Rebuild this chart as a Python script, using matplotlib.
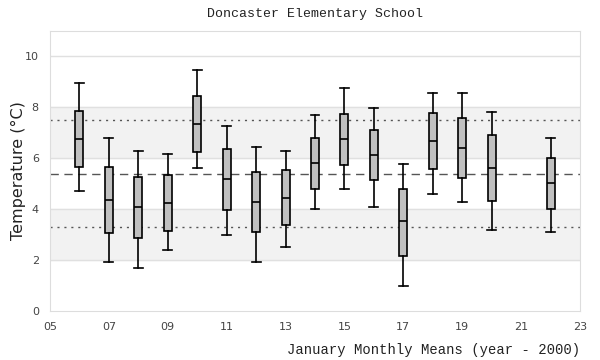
import matplotlib
matplotlib.use("Agg")
import matplotlib.pyplot as plt

years = [6, 7, 8, 9, 10, 11, 12, 13, 14, 15, 16, 17, 18, 19, 20, 22]
whislo = [4.71, 1.91, 1.71, 2.41, 5.61, 3.00, 1.91, 2.53, 4.01, 4.80, 4.10, 1.00, 4.60, 4.28, 3.19, 3.11]
q1 = [5.64, 3.07, 2.88, 3.15, 6.24, 3.97, 3.11, 3.36, 4.79, 5.73, 5.14, 2.18, 5.59, 5.23, 4.32, 4.00]
med = [6.75, 4.36, 4.09, 4.24, 7.33, 5.20, 4.28, 4.45, 5.81, 6.75, 6.12, 3.52, 6.68, 6.39, 5.61, 5.03]
q3 = [7.84, 5.65, 5.26, 5.34, 8.43, 6.36, 5.48, 5.54, 6.78, 7.72, 7.10, 4.79, 7.76, 7.60, 6.90, 6.00]
whishi = [8.96, 6.78, 6.28, 6.18, 9.47, 7.28, 6.46, 6.28, 7.68, 8.76, 7.98, 5.79, 8.57, 8.57, 7.80, 6.78]

mean_line = 5.38
upper_line = 7.49
lower_line = 3.32

xticks = [5, 7, 9, 11, 13, 15, 17, 19, 21, 23]
xticklabels = ["05", "07", "09", "11", "13", "15", "17", "19", "21", "23"]
yticks = [0, 2, 4, 6, 8, 10]

mono = "Liberation Mono"

fig = plt.figure(figsize=(6, 3.6), dpi=100)
ax = fig.add_axes([0.0833, 0.136, 0.8834, 0.778])

# alternating bands
ax.axhspan(2, 4, color="#f2f2f2", zorder=0)
ax.axhspan(6, 8, color="#f2f2f2", zorder=0)
for y in yticks[1:]:
    ax.axhline(y, color="#e0e0e0", lw=1, zorder=0.5)

stats = []
for i in range(len(years)):
    stats.append({"whislo": whislo[i], "q1": q1[i], "med": med[i],
                  "q3": q3[i], "whishi": whishi[i], "fliers": []})

ax.bxp(stats, positions=years, widths=0.27, patch_artist=True,
       showfliers=False, manage_ticks=False,
       boxprops=dict(facecolor="#c0c0c0", edgecolor="black", lw=1.2),
       medianprops=dict(color="black", lw=1.2),
       whiskerprops=dict(color="black", lw=1.2),
       capprops=dict(color="black", lw=1.2),
       capwidths=0.3, zorder=3)

ax.axhline(mean_line, color="#555555", lw=1, ls=(0, (6, 4)), zorder=2)
ax.axhline(upper_line, color="#555555", lw=1, ls=(0, (1.5, 3.5)), zorder=2)
ax.axhline(lower_line, color="#555555", lw=1, ls=(0, (1.5, 3.5)), zorder=2)

ax.set_xlim(5, 23)
ax.set_ylim(0, 11)
ax.set_xticks(xticks)
ax.set_xticklabels(xticklabels)
ax.set_yticks(yticks)
ax.tick_params(length=0, colors="#444444", labelsize=8, pad=8)
for s in ax.spines.values():
    s.set_color("#dddddd")

ax.set_title("Doncaster Elementary School", fontfamily=mono, fontsize=9.5,
             color="#222222", pad=10)
fig.text(0.03, 0.525, "Temperature (°C)", fontfamily="DejaVu Sans",
         fontsize=11.5, color="#222222", rotation=90, ha="center", va="center")
ax.set_xlabel("January Monthly Means (year - 2000)", fontfamily=mono,
              fontsize=10, color="#222222", loc="right", labelpad=8)

fig.savefig("out.png", dpi=100)
